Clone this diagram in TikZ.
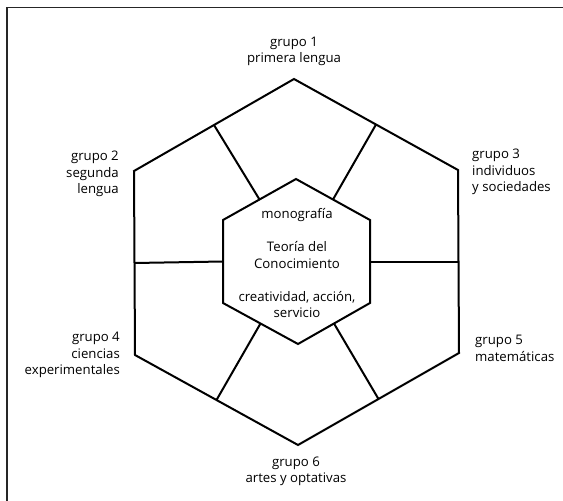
\documentclass[tikz,border=0pt]{standalone}
\usepackage{fontspec}
\setmainfont{Open Sans}
\usetikzlibrary{calc}

\begin{document}
\begin{tikzpicture}[x=1pt,y=-1pt,line join=miter,
  hex line/.style={draw,line width=2pt},
  grupo/.style={inner sep=0pt,font=\fontsize{13.2}{16.5}\selectfont},
  frame line/.style={line width=1.3pt,black!85}]
\useasboundingbox (0,0) rectangle (563,501);

% marco (solo arriba e izquierda)
\draw[frame line] (7,501) -- (7,7.5) -- (563,7.5);

% vertices del hexagono exterior y del interior
\foreach \n/\x/\y in {1/294/79,2/134/171,3/135/355,4/298/445,5/459/353,6/458/170}
  \coordinate (o\n) at (\x,\y);
\foreach \n/\x/\y in {1/296/179,2/223/220,3/223/303,4/298/344,5/370/303,6/370/220}
  \coordinate (i\n) at (\x,\y);

\draw[hex line] (o1) -- (o2) -- (o3) -- (o4) -- (o5) -- (o6) -- cycle;
\draw[hex line] (i1) -- (i2) -- (i3) -- (i4) -- (i5) -- (i6) -- cycle;

% radios entre los puntos medios de los lados
\foreach \a/\b in {1/2,2/3,3/4,4/5,5/6,6/1} {
  \coordinate (om\a) at ($(o\a)!0.5!(o\b)$);
  \coordinate (im\a) at ($(i\a)!0.5!(i\b)$);
  \draw[hex line] (om\a) -- (im\a);
}

% textos de los grupos
\node[grupo,align=center] (g1) at (294,51.5) {grupo 1\\primera lengua};
\node[grupo,align=right,anchor=east] (g2) at (119,174) {grupo 2\\segunda\\lengua};
\node[grupo,align=left,anchor=west] (g3) at (472,172) {grupo 3\\individuos\\y sociedades};
\node[grupo,align=right,anchor=east] (g4) at (120,355) {grupo 4\\ciencias\\experimentales};
\node[grupo,align=left,anchor=west] (g5) at (475,348.5) {grupo 5\\matemáticas};
\node[grupo,align=center] (g6) at (296,471.5) {grupo 6\\artes y optativas};

% centro
\node[grupo,align=center] (nucleo) at (297,263.5)
  {monografía\\[16.5pt]Teoría del\\Conocimiento\\[16.5pt]creatividad, acción,\\servicio};
\end{tikzpicture}
\end{document}
